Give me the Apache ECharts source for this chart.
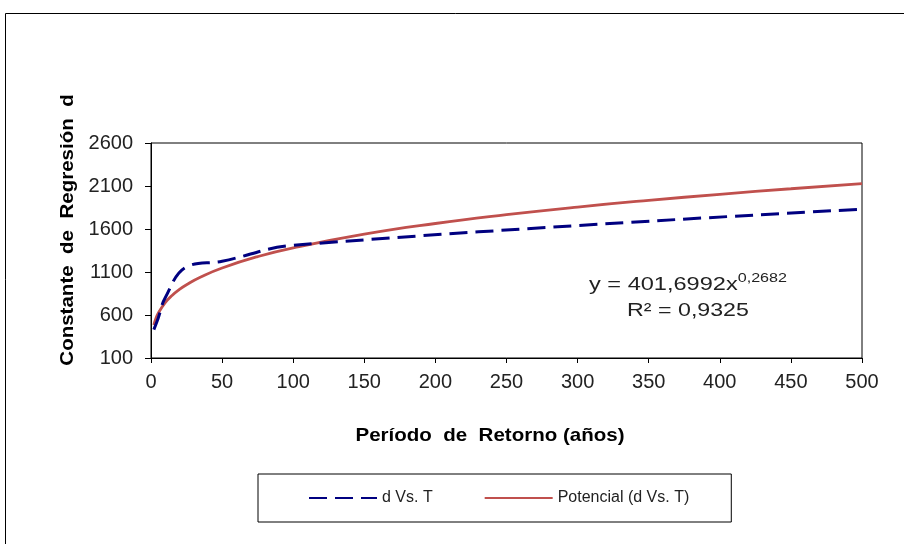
<!DOCTYPE html>
<html>
<head>
<meta charset="utf-8">
<script src="https://cdn.jsdelivr.net/npm/echarts@6/dist/echarts.min.js"></script>
<style>
  html, body { margin: 0; padding: 0; background: #fff; }
  #chart { width: 904px; height: 544px; }
</style>
</head>
<body>
<div id="chart"></div>
<script>
// observed d values per return period
const periodT = [2, 5, 10, 25, 50, 100, 500];
const dValues = [430, 560, 800, 1160, 1225, 1410, 1830];

// power trendline
const trendT = [2, 3, 5, 10, 15, 20, 25, 35, 50, 75, 100, 150, 200, 250, 300, 350, 400, 450, 500];
const trendD = [484, 539, 618, 745, 830, 897, 952, 1042, 1147, 1279, 1381, 1540, 1664, 1766, 1855, 1933, 2003, 2068, 2127];

const xTicks = [0, 50, 100, 150, 200, 250, 300, 350, 400, 450, 500];
const yTicks = [100, 600, 1100, 1600, 2100, 2600];

const chart = echarts.init(document.getElementById("chart"));
const font = "Liberation Sans, Arial, sans-serif";

const option = {
  animation: false,
  textStyle: { fontFamily: font },
  grid: {
    left: 151,
    top: 143,
    right: 42,
    bottom: 186,
    show: true,
    borderColor: "#000",
    borderWidth: 1,
  },
  xAxis: {
    type: "value",
    min: xTicks[0],
    max: xTicks[xTicks.length - 1],
    interval: 50,
    axisLine: { lineStyle: { color: "#000", width: 1 } },
    axisTick: { show: true, inside: false, length: 5, lineStyle: { color: "#000" } },
    axisLabel: { margin: 14, fontSize: 20, color: "#222", fontFamily: font },
    splitLine: { show: false },
  },
  yAxis: {
    type: "value",
    min: yTicks[0],
    max: yTicks[yTicks.length - 1],
    interval: 500,
    axisLine: { show: true, lineStyle: { color: "#000", width: 1 } },
    axisTick: { show: true, inside: false, length: 6, lineStyle: { color: "#000" } },
    axisLabel: {
      margin: 18,
      fontSize: 20,
      color: "#222",
      fontFamily: font,
      formatter: value => String(value),
    },
    splitLine: { show: false },
  },
  legend: {
    left: 258,
    top: 474,
    orient: "horizontal",
    borderColor: "#000",
    borderWidth: 1,
    padding: [16, 42, 16, 50],
    itemWidth: 68,
    itemHeight: 16,
    itemGap: 51,
    itemStyle: { opacity: 0 },
    textStyle: { fontSize: 16, color: "#222", fontFamily: font },
    data: ["d Vs. T", "Potencial (d Vs. T)"],
  },
  graphic: [
    {
      type: "rect",
      shape: { x: 5.5, y: 13.5, width: 920, height: 560 },
      style: { fill: "none", stroke: "#000", lineWidth: 1 },
      silent: true,
    },
    {
      type: "text",
      x: 68,
      y: 230,
      rotation: Math.PI / 2,
      scaleX: 1.08,
      style: {
        text: "Constante  de  Regresión  d",
        font: "bold 19px " + font,
        fill: "#000",
        align: "center",
        verticalAlign: "middle",
      },
    },
    {
      type: "text",
      x: 490,
      y: 436,
      scaleX: 1.08,
      style: {
        text: "Período  de  Retorno (años)",
        font: "bold 19px " + font,
        fill: "#000",
        align: "center",
        verticalAlign: "middle",
      },
    },
    {
      type: "text",
      x: 688,
      y: 283,
      scaleX: 1.24,
      style: {
        text: "{b|y = 401,6992x}{s|0,2682}",
        align: "center",
        verticalAlign: "middle",
        rich: {
          b: { fontSize: 19, fontFamily: font, fill: "#222", verticalAlign: "bottom" },
          s: { fontSize: 13, fontFamily: font, fill: "#222", padding: [0, 0, 10, 0] },
        },
      },
    },
    {
      type: "text",
      x: 688,
      y: 311,
      scaleX: 1.22,
      style: {
        text: "R² = 0,9325",
        font: "19px " + font,
        fill: "#222",
        align: "center",
        verticalAlign: "middle",
      },
    },
  ],
  series: [
    {
      name: "d Vs. T",
      type: "line",
      data: periodT.map((t, i) => [t, dValues[i]]),
      showSymbol: false,
      symbol: "none",
      smooth: 0.4,
      lineStyle: { color: "#000080", width: 3, type: [18, 8] },
      itemStyle: { color: "#000080" },
      z: 3,
    },
    {
      name: "Potencial (d Vs. T)",
      type: "line",
      data: trendT.map((t, i) => [t, trendD[i]]),
      showSymbol: false,
      symbol: "none",
      smooth: true,
      lineStyle: { color: "#C0504D", width: 2.8 },
      itemStyle: { color: "#C0504D" },
      z: 2,
    },
  ],
};

chart.setOption(option);
</script>
</body>
</html>
